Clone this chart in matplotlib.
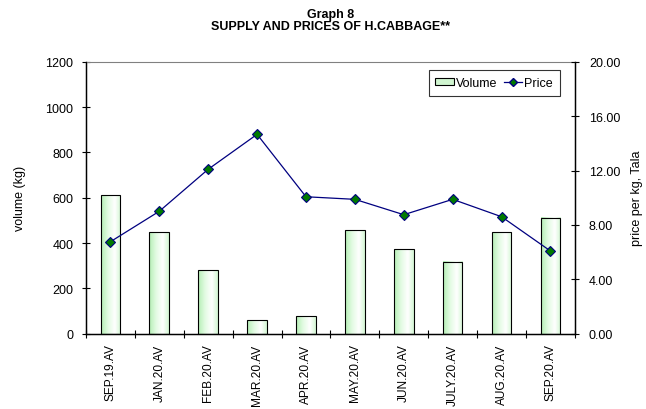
import matplotlib
matplotlib.use("Agg")
import matplotlib.pyplot as plt
import numpy as np
from matplotlib.lines import Line2D
from matplotlib.patches import Patch
from matplotlib.colors import LinearSegmentedColormap

categories = ["SEP.19.AV", "JAN.20.AV", "FEB.20.AV", "MAR.20.AV", "APR.20.AV",
              "MAY.20.AV", "JUN.20.AV", "JULY.20.AV", "AUG.20.AV", "SEP.20.AV"]
volume = [612, 450, 282, 59, 77, 456, 375, 318, 447, 512]
price = [6.76, 9.00, 12.09, 14.66, 10.07, 9.88, 8.75, 9.88, 8.60, 6.08]

vol_ticks = [0, 200, 400, 600, 800, 1000, 1200]
price_ticks = [0, 4, 8, 12, 16, 20]

plt.rcParams['font.family'] = ['Liberation Sans', 'DejaVu Sans']

fig = plt.figure(figsize=(6.46, 4.10), dpi=100)
ax = fig.add_axes([0.133, 0.1837, 0.757, 0.6633])
x = np.arange(len(categories))
bw = 0.4

grad_cmap = LinearSegmentedColormap.from_list(
    'g', [(0.0, '#b4eeb4'), (0.35, '#e2fbe2'), (0.7, '#ffffff'), (1.0, '#d4f7d4')])
grad = np.linspace(0, 1, 64).reshape(1, -1)
for xi, v in zip(x, volume):
    ax.imshow(grad, cmap=grad_cmap, extent=(xi - bw / 2, xi + bw / 2, 0, v),
              aspect='auto', origin='lower', zorder=2, interpolation='bilinear')
ax.bar(x, volume, width=bw, facecolor='none', edgecolor='black', linewidth=0.8, zorder=3)

ax.set_xlim(-0.5, len(categories) - 0.5)
ax.set_ylim(0, 1200)
ax.set_aspect('auto')
ax.set_yticks(vol_ticks)
ax.set_yticklabels([str(v) for v in vol_ticks], fontsize=9)
ax.set_xticks(x)
ax.set_xticklabels(categories, rotation=90, fontsize=8.6)
ax.set_xticks(np.arange(len(categories) + 1) - 0.5, minor=True)
ax.tick_params(axis='x', which='major', length=0, pad=7)
ax.tick_params(axis='x', which='minor', length=6, direction='inout', width=0.8)
ax.tick_params(axis='y', length=6, direction='inout', width=0.8, pad=6)
ax.set_ylabel('volume (kg)', fontsize=9, labelpad=14)
for s in ['left', 'bottom']:
    ax.spines[s].set_linewidth(1.0)
ax.spines['top'].set_color('#808080')
ax.spines['top'].set_linewidth(0.8)

ax2 = ax.twinx()
ax2.plot(x, price, color='#000080', linewidth=0.9, marker='D', markersize=5.5,
         markerfacecolor='#007a00', markeredgecolor='#000080', markeredgewidth=0.8)
ax2.set_ylim(0, 20)
ax2.set_yticks(price_ticks)
ax2.set_yticklabels(['%.2f' % p for p in price_ticks], fontsize=9)
ax2.tick_params(axis='y', length=6, direction='inout', width=0.8, pad=7)
ax2.set_ylabel('price per kg, Tala', fontsize=9, labelpad=8)
ax2.spines['right'].set_linewidth(1.0)
ax2.spines['top'].set_visible(False)

handles = [Patch(facecolor='#d0f5d0', edgecolor='black', linewidth=0.8),
           Line2D([], [], color='#000080', linewidth=0.9, marker='D', markersize=4,
                  markerfacecolor='#007a00', markeredgecolor='#000080')]
leg = ax2.legend(handles, ['Volume', 'Price'], loc='upper right',
                 bbox_to_anchor=(0.969, 0.969), ncol=2, fontsize=9,
                 frameon=True, fancybox=False, borderaxespad=0,
                 handlelength=1.5, handleheight=0.5, handletextpad=0.15,
                 columnspacing=0.5, borderpad=0.55)
leg.get_frame().set_edgecolor('black')
leg.get_frame().set_linewidth(0.8)

fig.text(0.511, 0.963, 'Graph 8', ha='center', va='center', fontsize=9, fontweight='bold')
fig.text(0.511, 0.933, 'SUPPLY AND PRICES OF H.CABBAGE**', ha='center', va='center',
         fontsize=9, fontweight='bold')

fig.savefig('out.png', dpi=100)
